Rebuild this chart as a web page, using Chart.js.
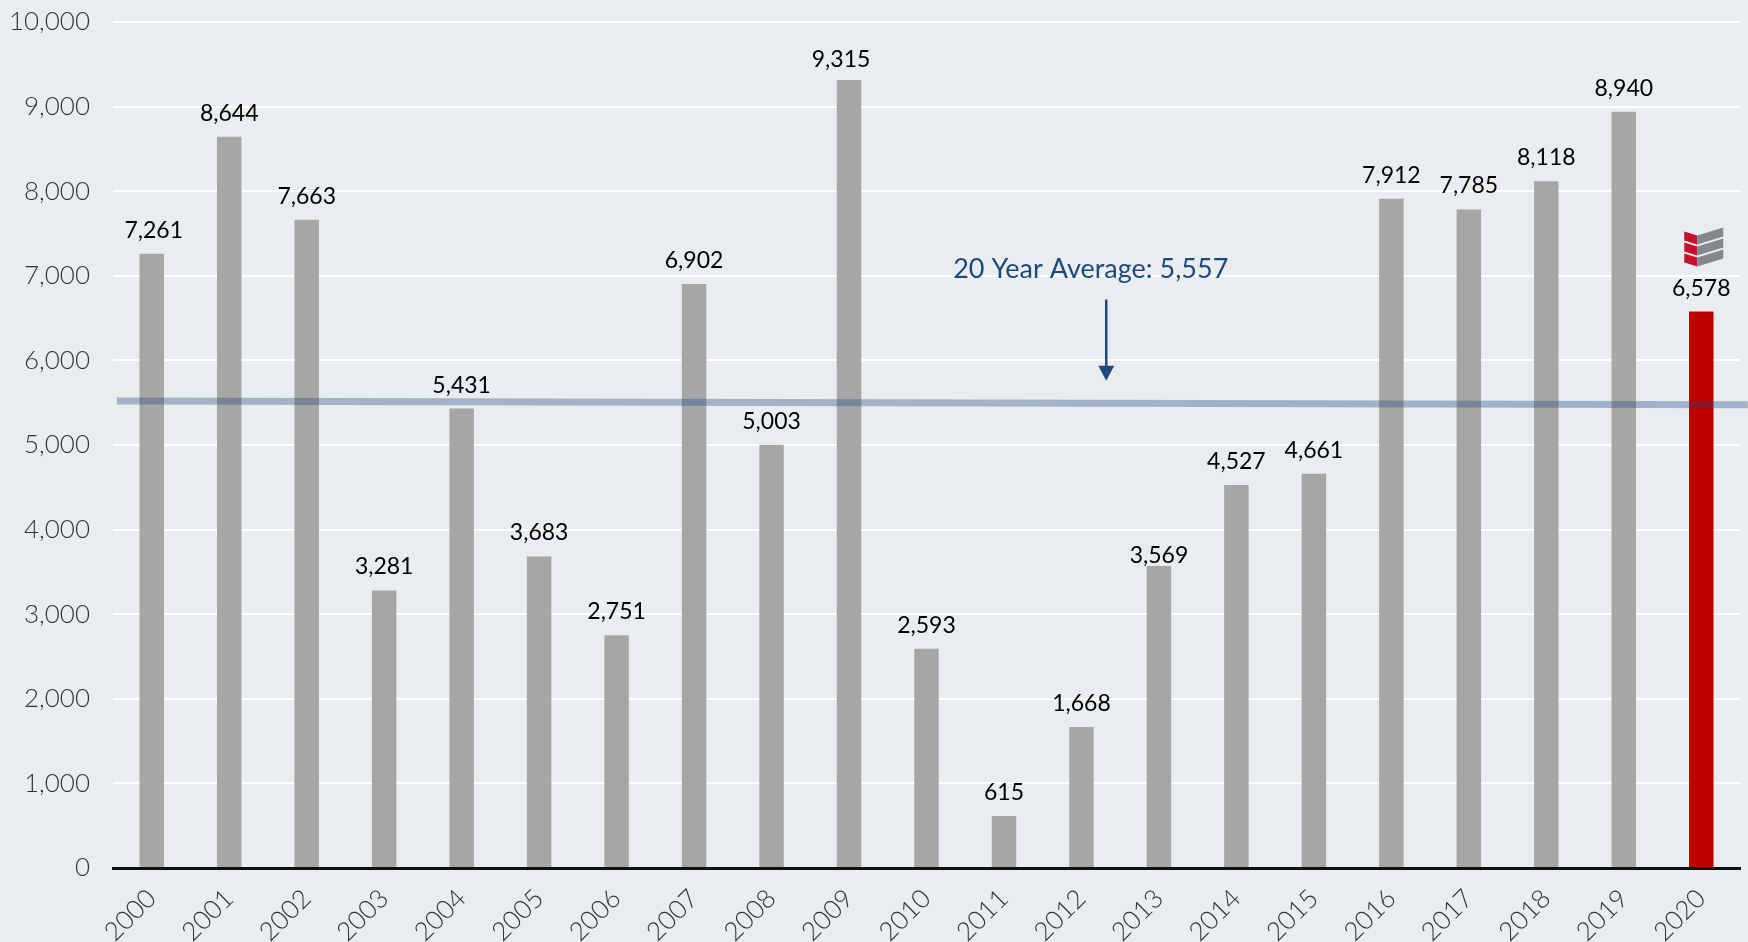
<!DOCTYPE html>
<html>
<head>
<meta charset="utf-8">
<title>Chart</title>
<script src="https://cdn.jsdelivr.net/npm/chart.js@4"></script>
<style>
    html, body { margin: 0; padding: 0; background: #e9edf0; }
    canvas { display: block; }
</style>
</head>
<body>
<canvas id="chart" width="1748" height="942"></canvas>
<script>
const years = ['2000','2001','2002','2003','2004','2005','2006','2007','2008','2009','2010',
    '2011','2012','2013','2014','2015','2016','2017','2018','2019','2020'];
const values = [7261,8644,7663,3281,5431,3683,2751,6902,5003,9315,2593,
    615,1668,3569,4527,4661,7912,7785,8118,8940,6578];
const barColors = values.map((v, i) => i === values.length - 1 ? '#c00000' : '#a6a6a6');

// the average line sits slightly off level in the picture
const averageLine = [{ x: -0.45, y: 5520 }, { x: 20.6, y: 5476 }];
const averageLabel = '20 Year Average: 5,557';
const averageLabelPos = { x: 12.12, y: 7075 };
const arrowFrom = { x: 12.32, y: 6720 };
const arrowTo = { x: 12.32, y: 5760 };

const FONT = 'Lato, "Noto Sans", sans-serif';
const NAVY = '#1f497d';

// a few labels were moved by hand in the original, keyed by bar index
const labelNudge = { 0: { x: 2, y: 0 }, 9: { x: -8, y: 3 }, 13: { x: 0, y: 13 } };

// value labels above each bar
const barLabels = {
    id: 'barLabels',
    afterDatasetsDraw(chart) {
        const ctx = chart.ctx;
        const bars = chart.getDatasetMeta(1).data;
        ctx.save();
        ctx.font = '400 23px ' + FONT;
        ctx.fillStyle = '#000';
        ctx.textAlign = 'center';
        ctx.textBaseline = 'alphabetic';
        bars.forEach((bar, i) => {
            const nudge = labelNudge[i] || { x: 0, y: 0 };
            ctx.fillText(values[i].toLocaleString('en-US'), bar.x + nudge.x, bar.y - 16 + nudge.y);
        });
        ctx.restore();
    }
};

// "20 Year Average" text and the arrow under it
const averageNote = {
    id: 'averageNote',
    afterDatasetsDraw(chart) {
        const ctx = chart.ctx;
        const sx = chart.scales.x;
        const sy = chart.scales.y;
        ctx.save();
        ctx.font = '400 27px ' + FONT;
        ctx.fillStyle = NAVY;
        ctx.textAlign = 'center';
        ctx.textBaseline = 'middle';
        ctx.fillText(averageLabel, sx.getPixelForValue(averageLabelPos.x), sy.getPixelForValue(averageLabelPos.y));

        const ax = sx.getPixelForValue(arrowFrom.x);
        const y0 = sy.getPixelForValue(arrowFrom.y);
        const y1 = sy.getPixelForValue(arrowTo.y);
        ctx.strokeStyle = NAVY;
        ctx.lineWidth = 2.5;
        ctx.beginPath();
        ctx.moveTo(ax, y0);
        ctx.lineTo(ax, y1 - 10);
        ctx.stroke();
        ctx.beginPath();
        ctx.moveTo(ax - 8, y1 - 15);
        ctx.lineTo(ax + 8, y1 - 15);
        ctx.lineTo(ax, y1);
        ctx.closePath();
        ctx.fill();
        ctx.restore();
    }
};

// small company mark above the 2020 bar
const logoMark = {
    id: 'logoMark',
    afterDatasetsDraw(chart) {
        const ctx = chart.ctx;
        const bar = chart.getDatasetMeta(1).data[20];
        const cx = bar.x + 2;
        const top = bar.y - 80;
        ctx.save();
        for (let i = 0; i < 3; i++) {
            const y = top + i * 11;
            ctx.fillStyle = '#c8102e';
            ctx.beginPath();
            ctx.moveTo(cx - 19, y);
            ctx.lineTo(cx - 6, y + 4);
            ctx.lineTo(cx - 6, y + 13);
            ctx.lineTo(cx - 19, y + 9);
            ctx.closePath();
            ctx.fill();
            ctx.fillStyle = '#85878a';
            ctx.beginPath();
            ctx.moveTo(cx - 6, y + 4);
            ctx.lineTo(cx + 20, y - 4);
            ctx.lineTo(cx + 20, y + 5);
            ctx.lineTo(cx - 6, y + 13);
            ctx.closePath();
            ctx.fill();
        }
        ctx.restore();
    }
};

new Chart(document.getElementById('chart'), {
    data: {
        labels: years,
        datasets: [{
            type: 'line',
            label: 'Average',
            data: averageLine,
            parsing: false, // keeps the fractional x positions on the category scale
            borderColor: 'rgba(31, 73, 125, 0.35)',
            borderWidth: 7,
            pointRadius: 0,
            clip: false,
            order: 1
        }, {
            type: 'bar',
            label: 'Total',
            data: values,
            backgroundColor: barColors,
            barPercentage: 0.316,
            categoryPercentage: 1,
            order: 2
        }]
    },
    options: {
        responsive: false,
        animation: false,
        layout: { padding: { top: 22, right: 8, left: 0, bottom: 0 } },
        plugins: { legend: { display: false }, tooltip: { enabled: false } },
        scales: {
            x: {
                offset: true,
                grid: { display: false, drawTicks: false },
                border: { display: true, color: '#111', width: 3 },
                ticks: {
                    color: '#333',
                    font: { family: FONT, size: 26, weight: '300' },
                    minRotation: 45,
                    maxRotation: 45,
                    padding: 15,
                    autoSkip: false
                },
                afterFit(axis) {
                    axis.height = 74;
                    axis.paddingLeft = 0;
                    axis.paddingRight = 0;
                }
            },
            y: {
                min: 0,
                max: 10000,
                grid: { color: '#ffffff', lineWidth: 2, drawTicks: false },
                border: { display: false },
                ticks: {
                    stepSize: 1000,
                    color: '#333',
                    padding: 23,
                    font: { family: FONT, size: 26, weight: '300' },
                    callback: (val) => val.toLocaleString('en-US')
                },
                afterFit(axis) {
                    axis.width = 113;
                    axis.paddingTop = 0;
                    axis.paddingBottom = 0;
                }
            }
        }
    },
    plugins: [barLabels, averageNote, logoMark]
});
</script>
</body>
</html>
